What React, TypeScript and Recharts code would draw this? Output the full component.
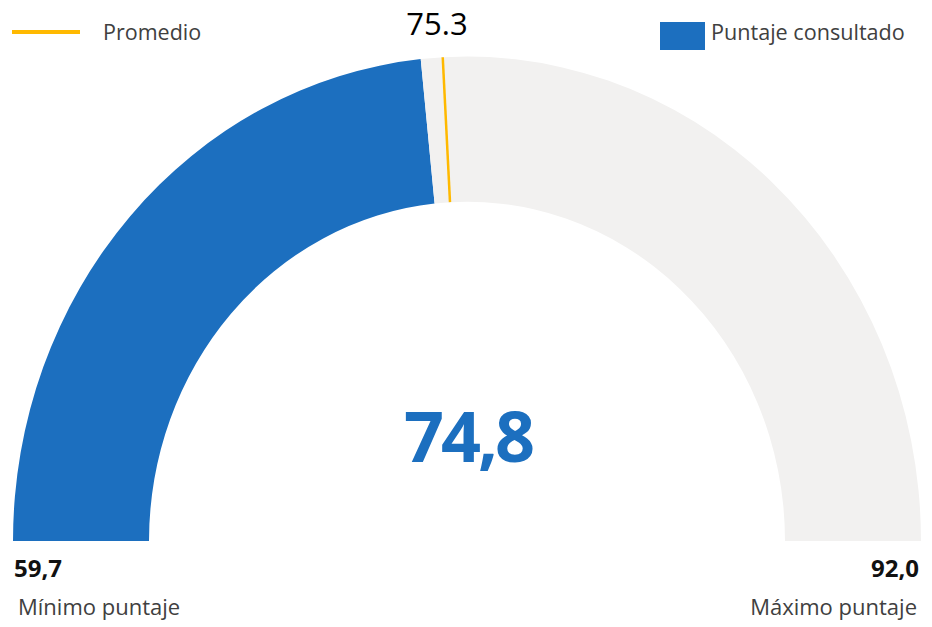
import { PieChart, Pie, Cell } from 'recharts';

const minScore = 59.7;
const maxScore = 92.0;
const score = 74.8;
const average = 75.3;

const scoreLabels = ['59,7', '92,0', '74,8'];
const averageLabel = '75.3';
const legendNames = ['Promedio', 'Puntaje consultado'];
const endLabels = ['Mínimo puntaje', 'Máximo puntaje'];

const BLUE = '#1c6fbf';
const GREY = '#f2f1f0';
const YELLOW = '#ffb900';
const TEXT = '#404040';

const scoreData = [
  { name: 'score', value: score - minScore },
  { name: 'rest', value: maxScore - score }
];
const averageData = [
  { name: 'avg', value: average - minScore },
  { name: 'rest', value: maxScore - average }
];

const RADIAN = Math.PI / 180;

// draws the average marker at the end of the first slice
const AverageMarker = (props: any) => {
  if (props.index !== 0) return null;
  const { cx, cy, innerRadius, outerRadius, endAngle } = props;
  const c = Math.cos(-endAngle * RADIAN);
  const s = Math.sin(-endAngle * RADIAN);
  return (
    <line
      x1={cx + innerRadius * c}
      y1={cy + innerRadius * s}
      x2={cx + outerRadius * c}
      y2={cy + outerRadius * s}
      stroke={YELLOW}
      strokeWidth={2.5}
    />
  );
};

export default function App() {
  return (
    <div
      style={{
        position: 'absolute',
        left: 0,
        top: 0,
        width: 932,
        height: 627,
        background: '#fff',
        overflow: 'hidden'
      }}
    >
      <div
        style={{
          position: 'absolute',
          left: 0,
          top: 0,
          width: 932,
          height: 627,
          transform: 'scaleY(1.067)',
          transformOrigin: '467px 541px'
        }}
      >
        <PieChart width={932} height={627} margin={{ top: 0, right: 0, bottom: 0, left: 0 }}>
          <Pie
            data={scoreData}
            dataKey="value"
            cx={467}
            cy={541}
            startAngle={180}
            endAngle={0}
            innerRadius={318}
            outerRadius={454}
            stroke="none"
            isAnimationActive={false}
          >
            <Cell fill={BLUE} />
            <Cell fill={GREY} />
          </Pie>
          <Pie
            data={averageData}
            dataKey="value"
            cx={467}
            cy={541}
            startAngle={180}
            endAngle={0}
            innerRadius={318}
            outerRadius={454}
            fill="none"
            stroke="none"
            label={AverageMarker}
            labelLine={false}
            isAnimationActive={false}
          />
        </PieChart>
      </div>
      <svg
        width={932}
        height={627}
        style={{ position: 'absolute', left: 0, top: 0, fontFamily: '"Open Sans", sans-serif' }}
      >
        <line x1={12} y1={32} x2={80} y2={32} stroke={YELLOW} strokeWidth={4} />
        <text x={103} y={40} fontSize={21.5} fill={TEXT}>{legendNames[0]}</text>
        <rect x={660} y={22} width={45} height={28} fill={BLUE} />
        <text x={711} y={40} fontSize={21.6} fill={TEXT}>{legendNames[1]}</text>
        <text x={437} y={35} fontSize={31} fill="#000" textAnchor="middle">{averageLabel}</text>
        <text x={468} y={462} fontSize={70} fontWeight="bold" fill={BLUE} textAnchor="middle" letterSpacing={-3}>
          {scoreLabels[2]}
        </text>
        <text x={14} y={577} fontSize={24} fontWeight="bold" fill="#111">{scoreLabels[0]}</text>
        <text x={919} y={577} fontSize={24} fontWeight="bold" fill="#111" textAnchor="end">{scoreLabels[1]}</text>
        <text x={18} y={615} fontSize={22} fill={TEXT}>{endLabels[0]}</text>
        <text x={917} y={615} fontSize={22} fill={TEXT} textAnchor="end">{endLabels[1]}</text>
      </svg>
    </div>
  );
}
